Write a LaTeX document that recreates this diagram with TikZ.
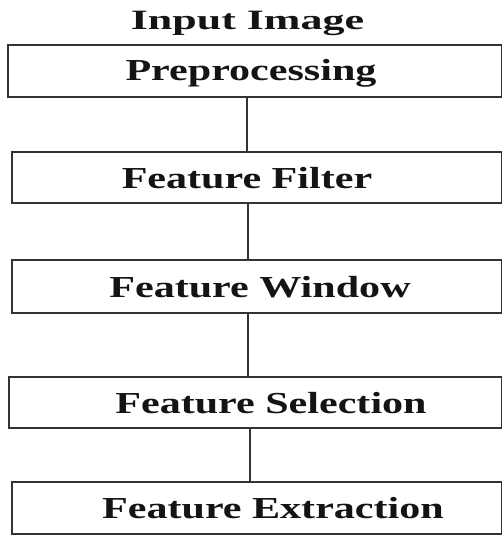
\documentclass[tikz,border=0pt]{standalone}
\usepackage{fontspec}
\setmainfont{Liberation Serif}[FakeStretch=1.38]
\newfontfamily\titlefont{Liberation Serif}[FakeStretch=1.57]
\usetikzlibrary{calc}
\begin{document}
\begin{tikzpicture}[x=1pt,y=-1pt,
  stage/.style={draw=black!80, line width=1.8pt, rectangle, inner sep=0pt, outer sep=0pt},
  caption/.style={font=\fontsize{30.5}{33}\selectfont\bfseries, anchor=base, inner sep=0pt, text=black!92},
  link/.style={draw=black!80, line width=1.6pt}]
\useasboundingbox (0,0) rectangle (503,535);

% heading
\node[font=\titlefont\fontsize{28}{30}\selectfont\bfseries, anchor=base, inner sep=0pt, text=black!92]
  (title) at (247.5,29.5) {Input Image};

% processing stages
\node[stage, minimum width=493.5pt, minimum height=52pt] (b1) at (254.75,71) {};
\node[stage, minimum width=489.5pt, minimum height=51pt] (b2) at (256.75,177.5) {};
\node[stage, minimum width=489.5pt, minimum height=53pt] (b3) at (256.75,286.5) {};
\node[stage, minimum width=492.5pt, minimum height=51pt] (b4) at (255.25,402.5) {};
\node[stage, minimum width=489.5pt, minimum height=52pt] (b5) at (256.75,508) {};

% stage captions
\node[caption] (t1) at (251,81) {Preprocessing};
\node[caption] (t2) at (247,188) {Feature Filter};
\node[caption] (t3) at (260,297) {Feature Window};
\node[caption] (t4) at (271,413) {Feature Selection};
\node[caption] (t5) at (273,518.5) {Feature Extraction};

% links between stages
\draw[link] ([xshift=-7.75pt]b1.south) -- ([xshift=-7.75pt]b1.south |- b2.north);
\draw[link] ([xshift=-8.75pt]b2.south) -- ([xshift=-8.75pt]b3.north);
\draw[link] ([xshift=-8.75pt]b3.south) -- ([xshift=-8.75pt]b3.south |- b4.north);
\draw[link] ([xshift=-5.25pt]b4.south) -- ([xshift=-5.25pt]b4.south |- b5.north);
\end{tikzpicture}
\end{document}
